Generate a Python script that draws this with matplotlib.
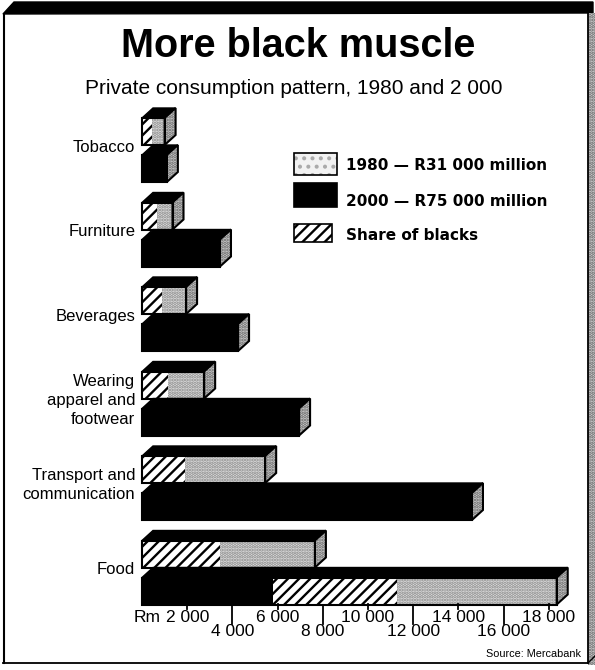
import matplotlib
matplotlib.use('Agg')
from matplotlib import pyplot as plt
from matplotlib.patches import Rectangle, Polygon

plt.rcParams['hatch.linewidth'] = 1.7
plt.rcParams['font.family'] = ['Liberation Sans', 'DejaVu Sans']

# data (R million)
categories = ['Tobacco', 'Furniture', 'Beverages', 'Wearing\napparel and\nfootwear',
              'Transport and\ncommunication', 'Food']
v1980 = [1000, 1350, 1950, 2750, 5450, 7650]
blacks1980 = [450, 650, 900, 1150, 1900, 3450]
v2000 = [1100, 3450, 4250, 6950, 14600, 18350]
# the food bar for 2000 is printed black / hatched / light
food2000_segments = [5800, 11300, 18350]

ticks_upper = [2000, 6000, 10000, 14000, 18000]
ticks_lower = [4000, 8000, 12000, 16000]

legend_labels = ['1980 \u2014 R31 000 million', '2000 \u2014 R75 000 million', 'Share of blacks']

W, H = 595, 670
X0 = 142.0      # pixel of value 0
PX = 22.6       # pixels per 1000
DX = 11 / PX * 1000   # depth of the boxes in value units
DY = 10
BAR_H = 27

fig = plt.figure(figsize=(W / 100, H / 100), dpi=100)
fig.patch.set_facecolor('white')

ax = fig.add_axes([0, 0, 1, 1])
ax.set_xlim(-X0 / PX * 1000, (W - X0) / PX * 1000)
ax.set_ylim(H, 0)
ax.axis('off')

lay = fig.add_axes([0, 0, 1, 1])
lay.set_xlim(0, W)
lay.set_ylim(H, 0)
lay.axis('off')
lay.patch.set_alpha(0)

LIGHT = dict(facecolor='#dedede', edgecolor='#8a8a8a', hatch='.....', linewidth=0)
LEG_LIGHT = dict(facecolor='#f2f2f2', edgecolor='#aaaaaa', hatch='..', linewidth=0)
SIDE = dict(facecolor='#cccccc', edgecolor='#666666', hatch='.....', linewidth=0)
HATCH = dict(facecolor='white', edgecolor='black', hatch='///', linewidth=0)
BLACK = dict(facecolor='black', edgecolor='black', linewidth=0)


def box(a, length, ytop, segments):
    yb = ytop + BAR_H
    for s, e, style in segments:
        a.add_patch(Rectangle((s, ytop), e - s, BAR_H, **style))
    a.add_patch(Polygon([(0, ytop), (DX, ytop - DY), (length + DX, ytop - DY), (length, ytop)],
                        closed=True, facecolor='black', edgecolor='black', linewidth=1))
    a.add_patch(Polygon([(length, ytop), (length + DX, ytop - DY), (length + DX, yb - DY), (length, yb)],
                        closed=True, **SIDE))
    a.add_patch(Polygon([(0, ytop), (0, yb), (length, yb), (length, ytop)], closed=True,
                        fill=False, edgecolor='black', linewidth=1.5))
    a.add_patch(Polygon([(length, ytop), (length + DX, ytop - DY), (length + DX, yb - DY), (length, yb)],
                        closed=True, fill=False, edgecolor='black', linewidth=1.5))


for i, cat in enumerate(categories):
    g = 108 + 84.5 * i
    # 1980 bar
    box(ax, v1980[i], g + DY,
        [(0, blacks1980[i], HATCH), (blacks1980[i], v1980[i], LIGHT)])
    # 2000 bar
    if cat == 'Food':
        a, b, c = food2000_segments
        segs = [(0, a, BLACK), (a, b, HATCH), (b, c, LIGHT)]
    else:
        segs = [(0, v2000[i], BLACK)]
    box(ax, v2000[i], g + 2 * DY + BAR_H, segs)
    ax.text(-300, g + 39, cat, ha='right', va='center', fontsize=12, linespacing=1.35)

# value axis
for t in ticks_lower:
    ax.plot([t, t], [605, 624], color='black', lw=1.3)
    ax.text(t, 632, f'{t:,}'.replace(',', ' '), ha='center', va='center', fontsize=12.5)
for t in ticks_upper:
    ax.plot([t, t], [604, 609], color='black', lw=1.3)
    ax.text(t, 617, f'{t:,}'.replace(',', ' '), ha='center', va='center', fontsize=12.5)
ax.annotate('Rm', xy=(ticks_upper[0], 617), xytext=(-19, 0), textcoords='offset points',
            ha='right', va='center', fontsize=12.5)

# titles
lay.text(298, 46, 'More black muscle', ha='center', va='center', fontsize=28.5, fontweight='bold')
lay.text(294, 89, 'Private consumption pattern, 1980 and 2 000', ha='center', va='center',
         fontsize=15)
lay.text(581, 654, 'Source: Mercabank', ha='right', va='center', fontsize=7.8)

# legend
leg_boxes = [(153, 22, 43, LEG_LIGHT), (183, 24, 43, BLACK), (224, 18, 38, HATCH)]
leg_text_y = [166, 202, 235]
for (y, h, w, style), lab, ty in zip(leg_boxes, legend_labels, leg_text_y):
    lay.add_patch(Rectangle((294, y), w, h, **style))
    lay.add_patch(Rectangle((294, y), w, h, fill=False, edgecolor='black', linewidth=1.2))
    lay.text(346, ty, lab, ha='left', va='center', fontsize=11, fontweight='bold',
             family='DejaVu Sans')

# frame
lay.add_patch(Polygon([(3, 14), (14, 2), (593, 2), (593, 13), (3, 14)], closed=True,
                      facecolor='black', edgecolor='black', linewidth=1))
lay.plot([3.5, 3.5], [14, 663], color='black', lw=1.5)
lay.add_patch(Rectangle((588, 13), 7, 652, facecolor='#d0d0d0', edgecolor='#666666',
                        hatch='.....', linewidth=0))
lay.plot([588, 588], [13, 663], color='black', lw=1.3)
lay.plot([3, 588], [663, 663], color='black', lw=1.3)
lay.plot([588, 595], [663, 656], color='black', lw=1.0)

fig.savefig('out.png', dpi=100, facecolor='white')
